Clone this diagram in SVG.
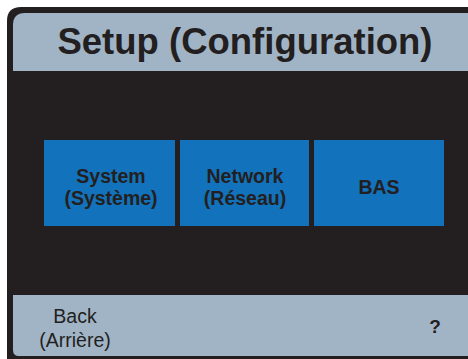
<svg xmlns="http://www.w3.org/2000/svg" width="468" height="359" viewBox="0 0 468 359">
<style>
.frame{fill:#231f20}
.panel{fill:#a1b4c6}
.btn{fill:#1272bb}
.t{font-family:"Liberation Sans",Arial,sans-serif;fill:#231f20;text-anchor:middle}
.b{font-weight:bold}
</style>
<rect width="468" height="359" fill="#ffffff"/>
<g id="frame">
<path class="frame" d="M468,7 H21 Q7,7 7,21 V359 H468 Z"/>
</g>
<g id="header">
<path class="panel" d="M468,13 H25 Q13,13 13,25 V71 H468 Z"/>
<text class="t b" x="245" y="54" font-size="36.5">Setup (Configuration)</text>
</g>
<g id="system">
<rect class="btn" x="44" y="140" width="131" height="86"/>
<text class="t b" x="111" y="183" font-size="19.5">System</text>
<text class="t b" x="111" y="205" font-size="19.5">(Système)</text>
</g>
<g id="network">
<rect class="btn" x="180" y="140" width="129" height="86"/>
<text class="t b" x="245" y="183" font-size="19.5">Network</text>
<text class="t b" x="245" y="205" font-size="19.5">(Réseau)</text>
</g>
<g id="bas">
<rect class="btn" x="314" y="140" width="130" height="86"/>
<text class="t b" x="379" y="194" font-size="19.5">BAS</text>
</g>
<g id="footer">
<path class="panel" d="M13,295 H468 V356 H19 Q13,356 13,350 Z"/>
<text class="t" x="75" y="323" font-size="19.5">Back</text>
<text class="t" x="75" y="347" font-size="19.5">(Arrière)</text>
<text class="t b" x="435" y="333" font-size="19">?</text>
</g>
<g id="connectors"/>
</svg>
